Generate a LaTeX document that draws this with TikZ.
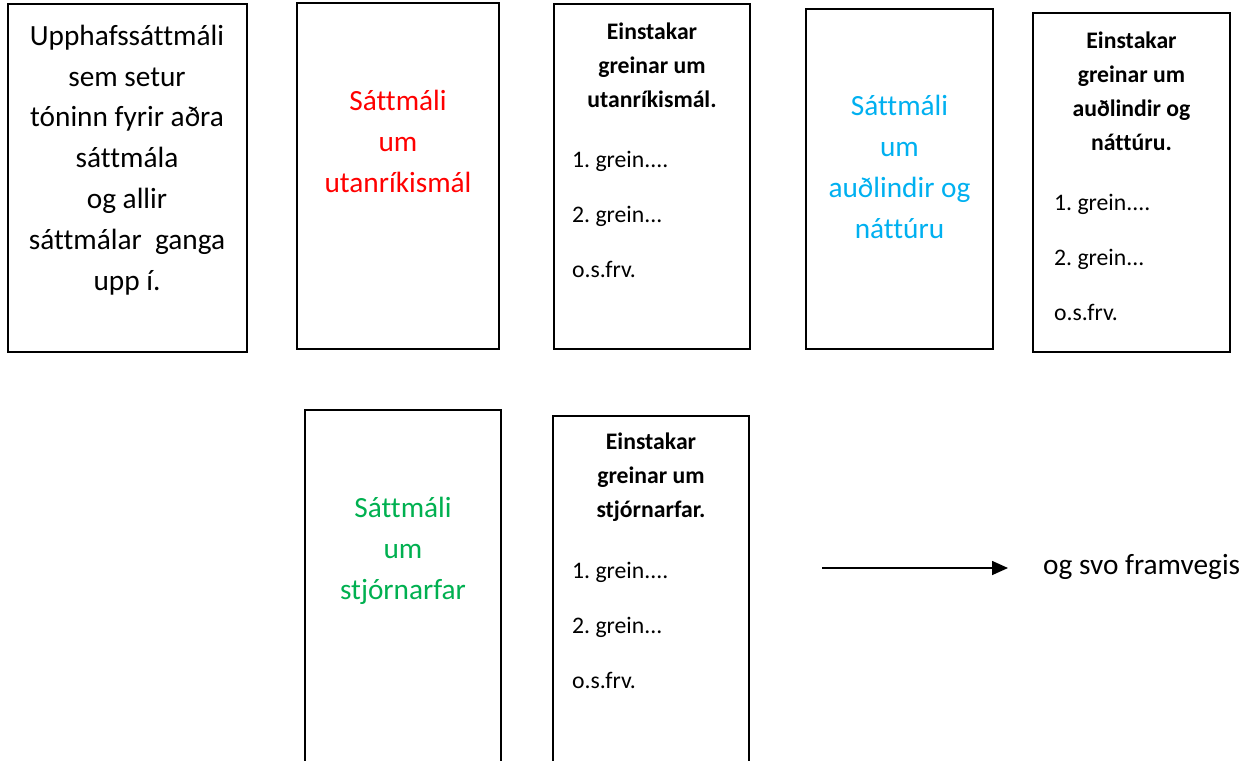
\documentclass[tikz,border=0pt]{standalone}
\usepackage{fontspec}
\setmainfont{Carlito}[Ligatures=NoCommon]
\usepackage{xcolor}
\usetikzlibrary{arrows.meta}

\definecolor{raudur}{HTML}{FF0000}
\definecolor{blar}{HTML}{00B0F0}
\definecolor{graenn}{HTML}{00B050}

\tikzset{
  kassi/.style={draw, line width=1.4pt, inner sep=0pt, outer sep=0pt},
  titill/.style={align=center, anchor=base, inner sep=0pt, font=\fontsize{29.3}{40.8}\selectfont},
  fyrirsogn/.style={align=center, anchor=base, inner sep=0pt, font=\fontsize{23.7}{34}\selectfont\bfseries},
  listi/.style={align=left, anchor=base west, inner sep=0pt, font=\fontsize{23.7}{55}\selectfont},
  pila/.style={line width=1.6pt, -{Triangle[length=16pt,width=14pt]}},
}

\begin{document}
\frenchspacing
\begin{tikzpicture}[x=1pt,y=-1pt]
        \clip (0,0) rectangle (1252,760);

        % Draw the boxes of the first row
        \node[kassi, minimum width=239pt, minimum height=348pt] (upphaf) at (127.5,178) {};
        \node[kassi, minimum width=202pt, minimum height=346pt] (utan) at (398,176) {};
        \node[kassi, minimum width=196pt, minimum height=345pt] (utangr) at (652,176.5) {};
        \node[kassi, minimum width=187pt, minimum height=340pt] (audl) at (899.5,179) {};
        \node[kassi, minimum width=197pt, minimum height=339pt] (audlgr) at (1131.5,182.5) {};

        % Draw the boxes of the second row
        \node[kassi, minimum width=196pt, minimum height=353pt] (stjorn) at (403,586.5) {};
        \node[kassi, minimum width=196pt, minimum height=347pt] (stjorngr) at (651,589.5) {};

        % Label the first box (base = last line)
        \node[titill] (upphaftxt) at (127,290) {Upphafssáttmáli\\sem setur\\tóninn fyrir aðra\\sáttmála\\og allir\\sáttmálar~ ganga\\upp í.};

        % Label the coloured boxes
        \node[titill, text=raudur] (utantxt) at (398,192) {Sáttmáli\\um\\utanríkismál};
        \node[titill, text=blar] (audltxt) at (899.5,238) {Sáttmáli\\um\\auðlindir og\\náttúru};
        \node[titill, text=graenn] (stjorntxt) at (403,599) {Sáttmáli\\um\\stjórnarfar};

        % Headings and lists of the article boxes
        \node[fyrirsogn] (utangrhaus) at (652,107) {Einstakar\\greinar um\\utanríkismál.};
        \node[listi] (utangrlisti) at (572,277) {1. grein....\\2. grein...\\o.s.frv.};

        \node[fyrirsogn] (audlgrhaus) at (1131.5,150) {Einstakar\\greinar um\\auðlindir og\\náttúru.};
        \node[listi] (audlgrlisti) at (1054,320) {1. grein....\\2. grein...\\o.s.frv.};

        \node[fyrirsogn] (stjorngrhaus) at (651,517) {Einstakar\\greinar um\\stjórnarfar.};
        \node[listi] (stjorngrlisti) at (572,688) {1. grein....\\2. grein...\\o.s.frv.};

        % Arrow and the closing text
        \coordinate (pilupph) at (822,568);
        \coordinate (pilendi) at (1008,568);
        \draw[pila] (pilupph) -- (pilendi);
        \node[titill, anchor=base west] (framvegis) at (1043,574) {og svo framvegis};

    \end{tikzpicture}
\end{document}
